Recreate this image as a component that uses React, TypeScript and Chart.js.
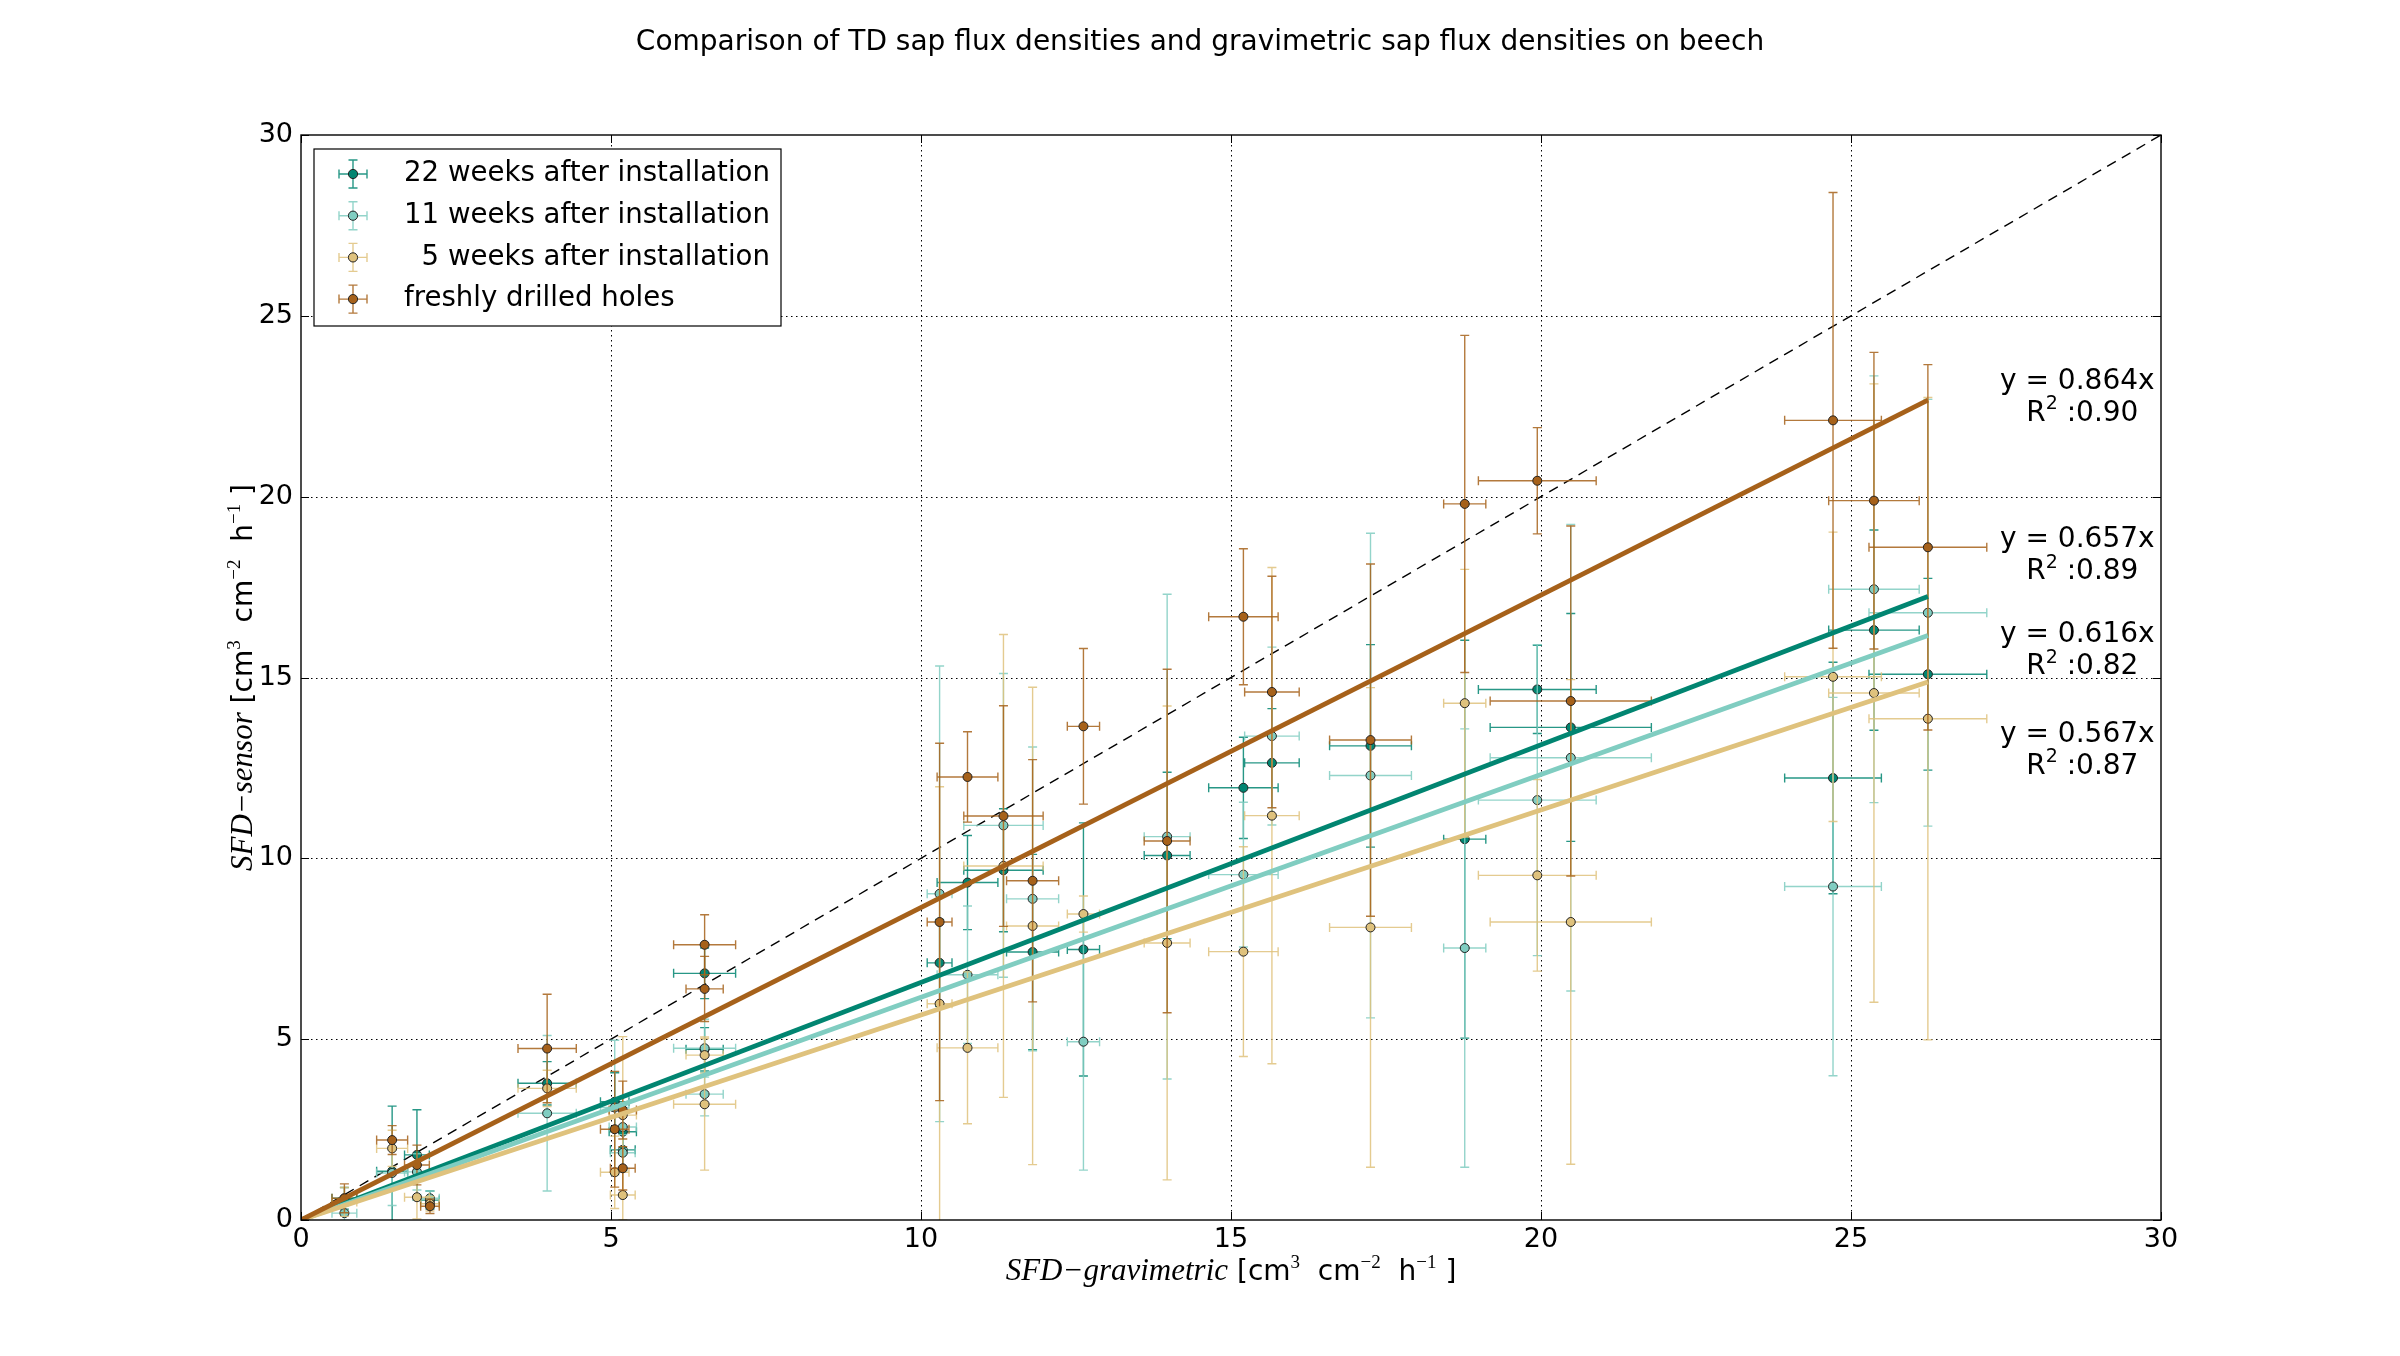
import React, { useEffect, useRef } from "react";
import { Chart, registerables } from "chart.js";

Chart.register(...registerables);

// ---------------- data ----------------
const TITLE = "Comparison of TD sap flux densities and gravimetric sap flux densities on beech";
const SERIES_LABELS = [
  "22 weeks after installation",
  "11 weeks after installation",
  "\u20075 weeks after installation",
  "freshly drilled holes",
];
const SERIES_COLORS = ["#018571", "#80cdc1", "#dfc27d", "#a6611a"];

const X_GRAV = [0.70, 1.47, 1.87, 2.08, 3.97, 5.06, 5.19, 5.19, 6.51, 6.51, 10.30, 10.75, 11.33, 11.80, 12.62, 13.97, 15.20, 15.66, 17.25, 18.77, 19.94, 20.48, 24.71, 25.37, 26.24];
const X_GRAV_ERR = [0.20, 0.25, 0.20, 0.15, 0.47, 0.23, 0.22, 0.20, 0.50, 0.30, 0.20, 0.49, 0.64, 0.42, 0.26, 0.37, 0.56, 0.44, 0.66, 0.34, 0.95, 1.30, 0.78, 0.73, 0.95];

const Y_22W = [0.60, 1.35, 1.80, 0.55, 3.78, 3.27, 2.44, 1.94, 6.82, 4.72, 7.11, 9.33, 9.67, 7.41, 7.48, 10.08, 11.95, 12.64, 13.11, 10.53, 14.67, 13.62, 12.22, 16.31, 15.09];
const Y_22W_ERR = [0.30, 1.80, 1.25, 0.25, 0.60, 0.80, 0.60, 0.50, 0.70, 0.60, 1.20, 1.30, 1.70, 2.70, 3.50, 2.30, 1.40, 1.50, 2.80, 5.50, 1.22, 3.15, 3.20, 2.77, 2.65];

const Y_11W = [0.19, 1.30, 1.33, 0.60, 2.95, 3.11, 2.57, 1.86, 4.75, 3.48, 9.02, 6.78, 10.91, 8.88, 4.93, 10.60, 9.55, 13.38, 12.29, 7.52, 11.61, 12.78, 9.22, 17.44, 16.79];
const Y_11W_ERR = [0.20, 0.90, 0.50, 0.20, 2.15, 1.86, 0.60, 0.50, 0.80, 0.60, 6.30, 1.90, 4.20, 4.20, 3.55, 6.70, 2.00, 2.46, 6.70, 6.06, 4.30, 6.45, 5.23, 5.90, 5.90];

const Y_5W = [0.50, 1.98, 0.63, 0.45, 3.64, 1.32, 2.90, 0.69, 3.20, 4.56, 5.98, 4.76, 9.79, 8.13, 8.46, 7.66, 7.42, 11.18, 8.09, 14.29, 9.53, 8.24, 15.02, 14.57, 13.86];
const Y_5W_ERR = [0.40, 0.50, 0.60, 0.20, 0.50, 1.00, 2.17, 0.69, 1.82, 0.50, 6.00, 2.10, 6.40, 6.60, 0.50, 6.55, 2.90, 6.86, 6.63, 3.70, 2.65, 6.70, 4.00, 8.55, 8.88];

const Y_FRESH = [0.60, 2.21, 1.52, 0.38, 4.74, 2.51, 3.04, 1.43, 7.61, 6.39, 8.24, 12.25, 11.17, 9.38, 13.65, 10.48, 16.68, 14.60, 13.27, 19.80, 20.44, 14.35, 22.11, 19.89, 18.60];
const Y_FRESH_ERR = [0.40, 0.40, 0.55, 0.20, 1.50, 1.60, 0.80, 0.60, 0.83, 0.90, 4.94, 1.25, 3.05, 3.35, 2.15, 4.75, 1.88, 3.20, 4.87, 4.66, 1.47, 4.84, 6.30, 4.10, 5.05];

const SLOPES = [0.657, 0.616, 0.567, 0.864];
const R_SQUARED = ["0.89", "0.82", "0.87", "0.90"];
const AXIS_MIN = 0;
const AXIS_MAX = 30;
const AXIS_STEP = 5;

const SERIES_Y = [Y_22W, Y_11W, Y_5W, Y_FRESH];
const SERIES_Y_ERR = [Y_22W_ERR, Y_11W_ERR, Y_5W_ERR, Y_FRESH_ERR];

// ---------------- layout / style ----------------
const SANS = '"DejaVu Sans", "Noto Sans", sans-serif';
const SERIF = '"Liberation Serif", "DejaVu Serif", serif';
const W = 2400;
const H = 1356;
const PLOT_LEFT = 301;
const PLOT_TOP = 135;
const PLOT_RIGHT = 2161;
const PLOT_BOTTOM = 1220;
// annotation anchor (data coords) for each series' fit text
const ANNOT_X = 28.65;
const ANNOT_Y = [18.8, 16.18, 13.43, 23.19];

type Run = { t: string; font: string; rise?: number };

function runsWidth(ctx: CanvasRenderingContext2D, runs: Run[]) {
  let w = 0;
  for (const r of runs) {
    ctx.font = r.font;
    w += ctx.measureText(r.t).width;
  }
  return w;
}

function drawRuns(ctx: CanvasRenderingContext2D, runs: Run[], x: number, y: number) {
  let cx = x;
  for (const r of runs) {
    ctx.font = r.font;
    ctx.fillText(r.t, cx, y - (r.rise || 0));
    cx += ctx.measureText(r.t).width;
  }
}

const CAP = 4.5;

const customPlugin = {
  id: "customDraw",
  beforeDatasetsDraw(chart: any) {
    const ctx: CanvasRenderingContext2D = chart.ctx;
    const xs = chart.scales.x;
    const ys = chart.scales.y;
    const a = chart.chartArea;
    ctx.save();
    ctx.strokeStyle = "#000";
    ctx.lineWidth = 1;
    ctx.setLineDash([1.5, 3.5]);
    for (let v = AXIS_MIN + AXIS_STEP; v < AXIS_MAX; v += AXIS_STEP) {
      const px = Math.round(xs.getPixelForValue(v)) + 0.5;
      ctx.beginPath();
      ctx.moveTo(px, a.top);
      ctx.lineTo(px, a.bottom);
      ctx.stroke();
      const py = Math.round(ys.getPixelForValue(v)) + 0.5;
      ctx.beginPath();
      ctx.moveTo(a.left, py);
      ctx.lineTo(a.right, py);
      ctx.stroke();
    }
    ctx.restore();
  },
  beforeDatasetDraw(chart: any, args: any) {
    const ds = chart.data.datasets[args.index];
    if (!ds.errX) return;
    const ctx: CanvasRenderingContext2D = chart.ctx;
    const xs = chart.scales.x;
    const ys = chart.scales.y;
    const a = chart.chartArea;
    ctx.save();
    ctx.beginPath();
    ctx.rect(a.left, a.top, a.right - a.left, a.bottom - a.top);
    ctx.clip();
    ctx.strokeStyle = ds.errColor;
    ctx.globalAlpha = 0.85;
    ctx.lineWidth = 1.4;
    ds.data.forEach((p: any, i: number) => {
      const px = xs.getPixelForValue(p.x);
      const py = ys.getPixelForValue(p.y);
      const x0 = xs.getPixelForValue(p.x - ds.errX[i]);
      const x1 = xs.getPixelForValue(p.x + ds.errX[i]);
      const y0 = ys.getPixelForValue(p.y - ds.errY[i]);
      const y1 = ys.getPixelForValue(p.y + ds.errY[i]);
      ctx.beginPath();
      ctx.moveTo(x0, py);
      ctx.lineTo(x1, py);
      ctx.moveTo(px, y0);
      ctx.lineTo(px, y1);
      ctx.moveTo(x0, py - CAP);
      ctx.lineTo(x0, py + CAP);
      ctx.moveTo(x1, py - CAP);
      ctx.lineTo(x1, py + CAP);
      ctx.moveTo(px - CAP, y0);
      ctx.lineTo(px + CAP, y0);
      ctx.moveTo(px - CAP, y1);
      ctx.lineTo(px + CAP, y1);
      ctx.stroke();
    });
    ctx.restore();
  },
  afterDatasetsDraw(chart: any) {
    const ctx: CanvasRenderingContext2D = chart.ctx;
    const xs = chart.scales.x;
    const ys = chart.scales.y;
    const a = chart.chartArea;
    ctx.save();
    ctx.strokeStyle = "#000";
    ctx.lineWidth = 1;
    // inward ticks on all four sides
    for (let v = AXIS_MIN; v <= AXIS_MAX; v += AXIS_STEP) {
      const px = Math.round(xs.getPixelForValue(v)) + 0.5;
      const py = Math.round(ys.getPixelForValue(v)) + 0.5;
      ctx.beginPath();
      ctx.moveTo(px, a.bottom);
      ctx.lineTo(px, a.bottom - 8);
      ctx.moveTo(px, a.top);
      ctx.lineTo(px, a.top + 8);
      ctx.moveTo(a.left, py);
      ctx.lineTo(a.left + 8, py);
      ctx.moveTo(a.right, py);
      ctx.lineTo(a.right - 8, py);
      ctx.stroke();
    }
    ctx.lineWidth = 1.4;
    ctx.strokeRect(a.left, a.top, a.right - a.left, a.bottom - a.top);
    ctx.restore();
  },
  afterDraw(chart: any) {
    const ctx: CanvasRenderingContext2D = chart.ctx;
    const xs = chart.scales.x;
    const ys = chart.scales.y;
    const a = chart.chartArea;
    ctx.save();
    ctx.fillStyle = "#000";

    // title
    ctx.font = `28px ${SANS}`;
    ctx.textAlign = "center";
    ctx.textBaseline = "alphabetic";
    ctx.fillText(TITLE, W / 2, 50);

    // fit annotations
    ctx.textAlign = "left";
    ctx.textBaseline = "middle";
    for (let s = 0; s < SLOPES.length; s++) {
      const cx = xs.getPixelForValue(ANNOT_X);
      const cy = ys.getPixelForValue(ANNOT_Y[s]);
      const l1: Run[] = [{ t: `y = ${SLOPES[s].toFixed(3)}x`, font: `28px ${SANS}` }];
      const l2: Run[] = [
        { t: "R", font: `28px ${SANS}` },
        { t: "2", font: `19px ${SANS}`, rise: 9 },
        { t: ` :${R_SQUARED[s]}`, font: `28px ${SANS}` },
      ];
      drawRuns(ctx, l1, cx - runsWidth(ctx, l1) / 2, cy);
      drawRuns(ctx, l2, cx - runsWidth(ctx, l2) / 2 + 5, cy + 32);
    }

    // axis labels
    ctx.textBaseline = "alphabetic";
    const base = `28px ${SANS}`;
    const sup = `19px ${SERIF}`;
    const unitRuns: Run[] = [
      { t: " [cm", font: base },
      { t: "3", font: sup, rise: 12 },
      { t: "  cm", font: base },
      { t: "\u22122", font: sup, rise: 12 },
      { t: "  h", font: base },
      { t: "\u22121", font: sup, rise: 12 },
      { t: " ]", font: base },
    ];
    const xRuns: Run[] = [{ t: "SFD\u2212gravimetric", font: `italic 31px ${SERIF}` }, ...unitRuns];
    const xw = runsWidth(ctx, xRuns);
    drawRuns(ctx, xRuns, (a.left + a.right) / 2 - xw / 2, 1280);

    const yRuns: Run[] = [{ t: "SFD\u2212sensor", font: `italic 31px ${SERIF}` }, ...unitRuns];
    const yw = runsWidth(ctx, yRuns);
    ctx.save();
    ctx.translate(252, (a.top + a.bottom) / 2);
    ctx.rotate(-Math.PI / 2);
    drawRuns(ctx, yRuns, -yw / 2, 0);
    ctx.restore();

    // legend
    const lx = a.left + 13;
    const ly = a.top + 14;
    const lw = 467;
    const lh = 177;
    ctx.fillStyle = "#fff";
    ctx.fillRect(lx, ly, lw, lh);
    ctx.strokeStyle = "#000";
    ctx.lineWidth = 1.2;
    ctx.strokeRect(lx, ly, lw, lh);
    for (let s = 0; s < SERIES_LABELS.length; s++) {
      const cy = ly + 25 + s * 41.7;
      const mx = lx + 39;
      ctx.save();
      ctx.strokeStyle = SERIES_COLORS[s];
      ctx.globalAlpha = 0.85;
      ctx.lineWidth = 1.4;
      ctx.beginPath();
      ctx.moveTo(mx - 14, cy);
      ctx.lineTo(mx + 14, cy);
      ctx.moveTo(mx, cy - 14);
      ctx.lineTo(mx, cy + 14);
      ctx.moveTo(mx - 14, cy - CAP);
      ctx.lineTo(mx - 14, cy + CAP);
      ctx.moveTo(mx + 14, cy - CAP);
      ctx.lineTo(mx + 14, cy + CAP);
      ctx.moveTo(mx - CAP, cy - 14);
      ctx.lineTo(mx + CAP, cy - 14);
      ctx.moveTo(mx - CAP, cy + 14);
      ctx.lineTo(mx + CAP, cy + 14);
      ctx.stroke();
      ctx.restore();
      ctx.beginPath();
      ctx.arc(mx, cy, 4.6, 0, Math.PI * 2);
      ctx.fillStyle = SERIES_COLORS[s];
      ctx.fill();
      ctx.strokeStyle = "#222";
      ctx.lineWidth = 1;
      ctx.stroke();
      ctx.fillStyle = "#000";
      ctx.font = `27.6px ${SANS}`;
      ctx.textBaseline = "middle";
      ctx.textAlign = "left";
      ctx.fillText(SERIES_LABELS[s], lx + 90, cy);
    }
    ctx.restore();
  },
};

export default function App() {
  const ref = useRef<HTMLCanvasElement | null>(null);

  useEffect(() => {
    if (!ref.current) return;
    const xMax = Math.max(...X_GRAV);
    const scatterSets = SERIES_LABELS.map((label, s) => ({
      type: "scatter" as const,
      label,
      data: X_GRAV.map((x, i) => ({ x, y: SERIES_Y[s][i] })),
      errX: X_GRAV_ERR,
      errY: SERIES_Y_ERR[s],
      errColor: SERIES_COLORS[s],
      backgroundColor: SERIES_COLORS[s],
      borderColor: "#222",
      borderWidth: 1,
      pointRadius: 4.5,
      pointHoverRadius: 4.5,
      order: 50 - s * 10,
    }));
    const fitSets = SLOPES.map((m, s) => ({
      type: "scatter" as const,
      label: `fit ${s}`,
      data: [
        { x: 0, y: 0 },
        { x: xMax, y: m * xMax },
      ],
      showLine: true,
      borderColor: SERIES_COLORS[s],
      backgroundColor: SERIES_COLORS[s],
      borderWidth: 4.8,
      pointRadius: 0,
      order: s === 3 ? 1 : 5 - s,
    }));
    const oneToOne = {
      type: "scatter" as const,
      label: "1:1",
      data: [
        { x: AXIS_MIN, y: AXIS_MIN },
        { x: AXIS_MAX, y: AXIS_MAX },
      ],
      showLine: true,
      borderColor: "#000",
      borderWidth: 1.4,
      borderDash: [10, 7],
      pointRadius: 0,
      order: 100,
    };

    const tickFont = { family: SANS, size: 27 };
    const chart = new Chart(ref.current, {
      type: "scatter",
      data: { datasets: [oneToOne, ...scatterSets, ...fitSets] as any },
      options: {
        responsive: false,
        animation: false,
        events: [],
        layout: { padding: { left: 0, top: PLOT_TOP, right: W - PLOT_RIGHT, bottom: 0 } },
        plugins: {
          legend: { display: false },
          tooltip: { enabled: false },
          title: { display: false },
        },
        scales: {
          x: {
            type: "linear",
            position: "bottom",
            min: AXIS_MIN,
            max: AXIS_MAX,
            afterFit: (s: any) => {
              s.height = H - PLOT_BOTTOM;
            },
            grid: { display: false, drawTicks: false },
            border: { display: false },
            ticks: { stepSize: AXIS_STEP, padding: 4, color: "#000", font: tickFont, maxRotation: 0, autoSkip: false },
          },
          y: {
            type: "linear",
            position: "left",
            min: AXIS_MIN,
            max: AXIS_MAX,
            afterFit: (s: any) => {
              s.width = PLOT_LEFT;
            },
            grid: { display: false, drawTicks: false },
            border: { display: false },
            ticks: { stepSize: AXIS_STEP, padding: 8, color: "#000", font: tickFont, autoSkip: false },
          },
        },
      } as any,
      plugins: [customPlugin],
    });
    return () => chart.destroy();
  }, []);

  return (
    <canvas
      ref={ref}
      width={W}
      height={H}
      style={{ position: "absolute", left: 0, top: 0, width: `${W}px`, height: `${H}px`, display: "block" }}
    />
  );
}
